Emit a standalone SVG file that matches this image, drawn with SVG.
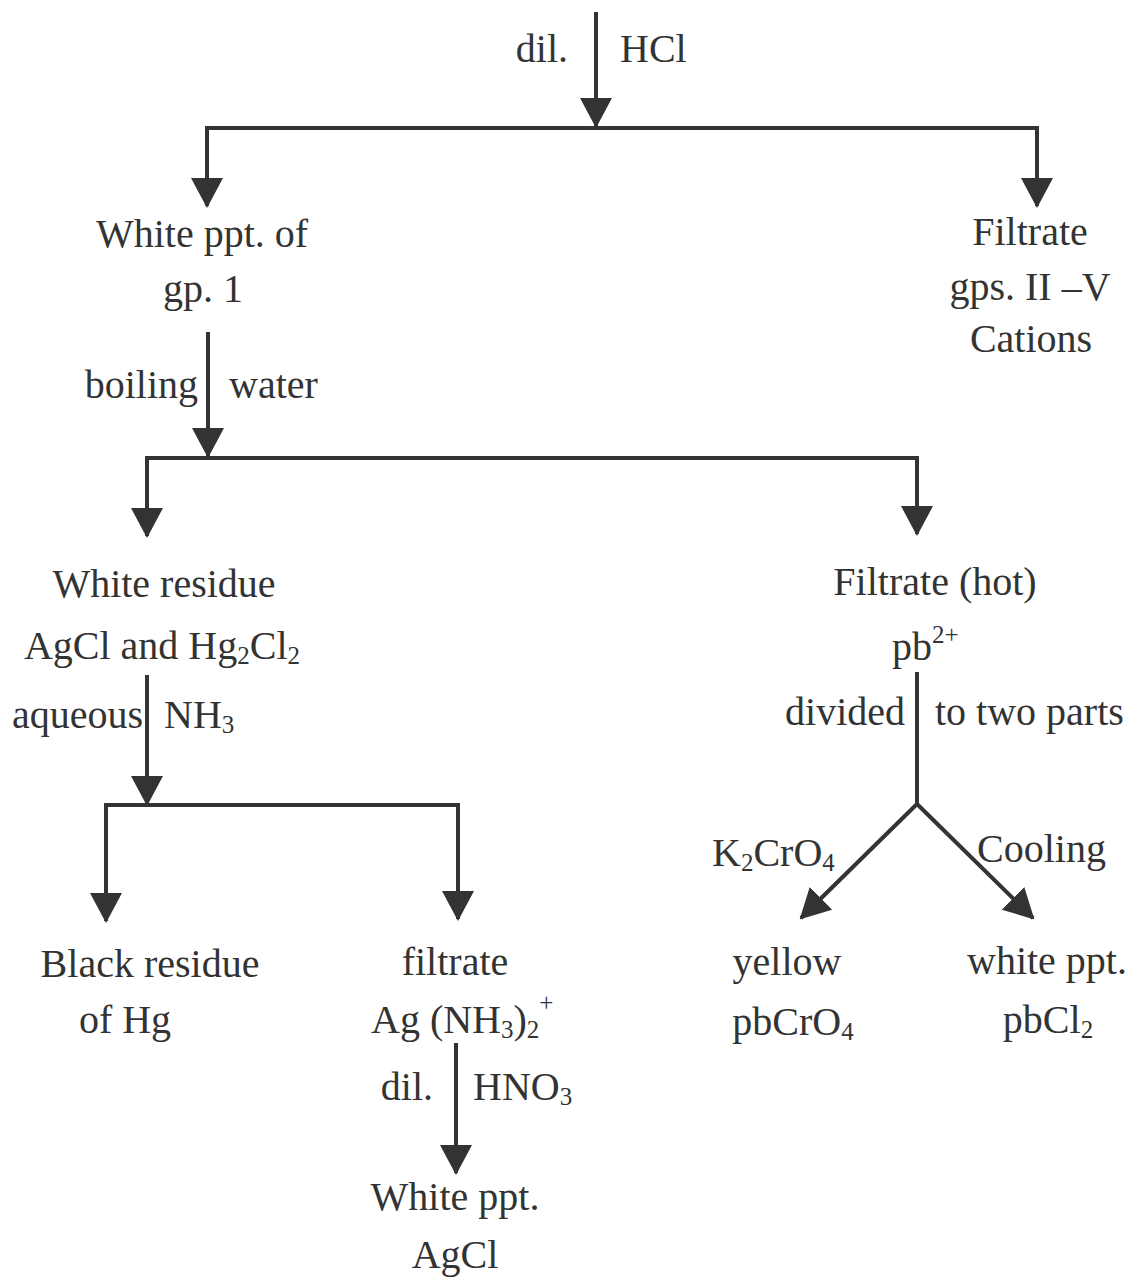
<svg xmlns="http://www.w3.org/2000/svg" width="1130" height="1279" viewBox="0 0 1130 1279">
<style>
text{font-family:"Liberation Serif","Times New Roman",serif;font-size:40px;fill:#333}
.m{text-anchor:middle}
.e{text-anchor:end}
.s{font-size:25px}
.c line,.c polyline{stroke:#333;stroke-width:4;fill:none}
</style>
<defs>
<marker id="a" markerUnits="userSpaceOnUse" markerWidth="30" markerHeight="32" refX="28" refY="16" orient="auto" viewBox="0 0 30 32">
<path d="M0,0 L30,16 L0,32 z" fill="#333"/>
</marker>
</defs>
<rect width="1130" height="1279" fill="#fff"/>
<g class="c" id="connectors">
<line x1="596" y1="12" x2="596" y2="126" marker-end="url(#a)"/>
<line x1="205" y1="128" x2="1039" y2="128"/>
<line x1="207" y1="128" x2="207" y2="206" marker-end="url(#a)"/>
<line x1="1037" y1="128" x2="1037" y2="206" marker-end="url(#a)"/>
<line x1="208" y1="332" x2="208" y2="456" marker-end="url(#a)"/>
<line x1="145" y1="458" x2="919" y2="458"/>
<line x1="147" y1="458" x2="147" y2="536" marker-end="url(#a)"/>
<line x1="917" y1="458" x2="917" y2="534" marker-end="url(#a)"/>
<line x1="147" y1="675" x2="147" y2="804" marker-end="url(#a)"/>
<line x1="104" y1="805" x2="460" y2="805"/>
<line x1="106" y1="805" x2="106" y2="921" marker-end="url(#a)"/>
<line x1="458" y1="805" x2="458" y2="919" marker-end="url(#a)"/>
<line x1="456" y1="1043" x2="456" y2="1173" marker-end="url(#a)"/>
<polyline points="917,672 917,804"/>
<line x1="917" y1="804" x2="801" y2="918" marker-end="url(#a)"/>
<line x1="917" y1="804" x2="1033" y2="918" marker-end="url(#a)"/>
</g>
<g id="lbl-hcl"><text x="568" y="62" class="e">dil.</text><text x="620" y="62">HCl</text></g>
<g id="n-gp1"><text x="202" y="247" class="m">White ppt. of</text><text x="203" y="302" class="m">gp. 1</text></g>
<g id="n-filtrate1"><text x="1030" y="245" class="m">Filtrate</text><text x="1030" y="300" class="m">gps. II –V</text><text x="1031" y="352" class="m">Cations</text></g>
<g id="lbl-boil"><text x="198" y="398" class="e">boiling</text><text x="229" y="398">water</text></g>
<g id="n-residue"><text x="164" y="597" class="m">White residue</text><text x="162" y="659" class="m">AgCl and Hg<tspan class="s" dy="5">2</tspan><tspan dy="-5">Cl</tspan><tspan class="s" dy="5">2</tspan></text></g>
<g id="n-hot"><text x="935" y="595" class="m">Filtrate (hot)</text><text x="892" y="660">pb<tspan class="s" dy="-17">2+</tspan></text></g>
<g id="lbl-nh3"><text x="143" y="728" class="e">aqueous</text><text x="164" y="728">NH<tspan class="s" dy="5">3</tspan></text></g>
<g id="lbl-divided"><text x="905" y="725" class="e">divided</text><text x="935" y="725">to two parts</text></g>
<g id="lbl-k2cro4"><text x="712" y="866">K<tspan class="s" dy="5">2</tspan><tspan dy="-5">CrO</tspan><tspan class="s" dy="5">4</tspan></text></g>
<g id="lbl-cooling"><text x="977" y="862">Cooling</text></g>
<g id="n-black"><text x="150" y="977" class="m">Black residue</text><text x="125" y="1033" class="m">of Hg</text></g>
<g id="n-filtrate2"><text x="455" y="975" class="m">filtrate</text><text x="371" y="1033">Ag (NH<tspan class="s" dy="5">3</tspan><tspan dy="-5">)</tspan><tspan class="s" dy="5">2</tspan><tspan class="s" dy="-27">+</tspan></text></g>
<g id="lbl-hno3"><text x="433" y="1100" class="e">dil.</text><text x="473" y="1100">HNO<tspan class="s" dy="5">3</tspan></text></g>
<g id="n-agcl"><text x="455" y="1210" class="m">White ppt.</text><text x="455" y="1268" class="m">AgCl</text></g>
<g id="n-yellow"><text x="787" y="975" class="m">yellow</text><text x="793" y="1035" class="m">pbCrO<tspan class="s" dy="5">4</tspan></text></g>
<g id="n-white"><text x="1047" y="974" class="m">white ppt.</text><text x="1048" y="1033" class="m">pbCl<tspan class="s" dy="5">2</tspan></text></g>
</svg>
